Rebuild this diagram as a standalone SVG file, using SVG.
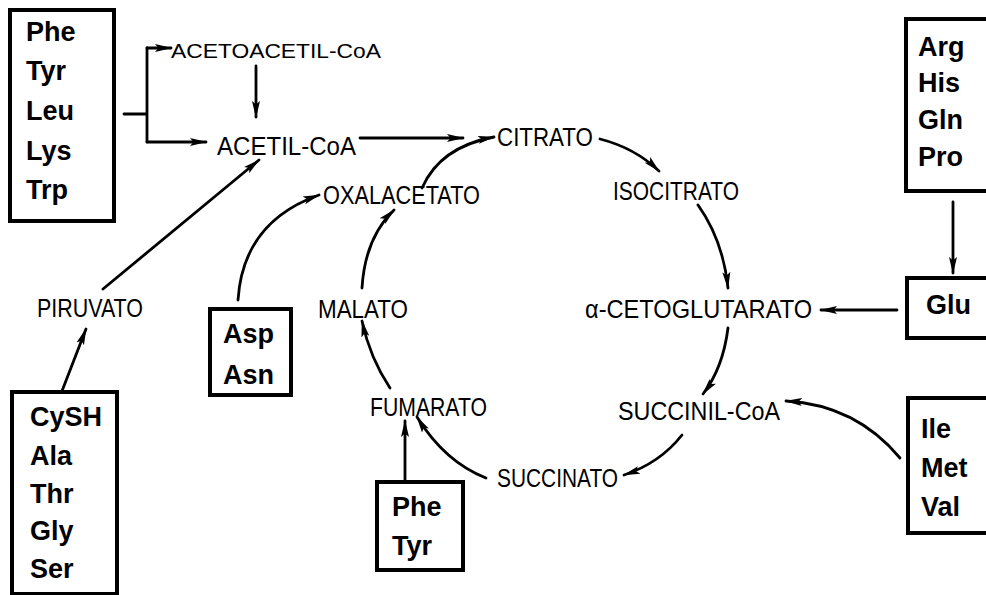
<svg xmlns="http://www.w3.org/2000/svg" width="986" height="595" viewBox="0 0 986 595">
  <style>
    .box { fill: #fff; stroke: #000; stroke-width: 4; }
    .aa { font-family: "Liberation Sans", Arial, sans-serif; font-weight: bold; font-size: 27px; fill: #000; }
    .met { font-family: "Liberation Sans", Arial, sans-serif; font-size: 26px; fill: #000; }
    .small { font-size: 21px; }
    .edge { fill: none; stroke: #000; stroke-width: 2.8; stroke-linecap: round; }
    .arr { marker-end: url(#head); }
  </style>
  <defs>
    <marker id="head" markerUnits="userSpaceOnUse" markerWidth="20" markerHeight="12" refX="16" refY="6" orient="auto">
      <path d="M0,2 L17,6 L0,10 L3.5,6 Z" fill="#000"/>
    </marker>
  </defs>
  <rect width="986" height="595" fill="#fff"/>

  <!-- amino acid boxes -->
  <g id="aa-phe-tyr-leu-lys-trp">
    <rect class="box" x="10" y="10" width="104" height="211"/>
    <text class="aa" x="26" y="41">Phe</text>
    <text class="aa" x="26" y="80">Tyr</text>
    <text class="aa" x="26" y="120">Leu</text>
    <text class="aa" x="26" y="160">Lys</text>
    <text class="aa" x="26" y="199">Trp</text>
  </g>
  <g id="aa-arg-his-gln-pro">
    <rect class="box" x="906" y="19" width="90" height="172"/>
    <text class="aa" x="918" y="56">Arg</text>
    <text class="aa" x="918" y="92">His</text>
    <text class="aa" x="918" y="129">Gln</text>
    <text class="aa" x="918" y="166">Pro</text>
  </g>
  <g id="aa-glu">
    <rect class="box" x="907" y="278" width="90" height="60"/>
    <text class="aa" x="926" y="314">Glu</text>
  </g>
  <g id="aa-ile-met-val">
    <rect class="box" x="908" y="398" width="90" height="135"/>
    <text class="aa" x="921" y="438">Ile</text>
    <text class="aa" x="921" y="477">Met</text>
    <text class="aa" x="921" y="516">Val</text>
  </g>
  <g id="aa-cysh-ala-thr-gly-ser">
    <rect class="box" x="12" y="392" width="105" height="202"/>
    <text class="aa" x="30" y="426">CySH</text>
    <text class="aa" x="30" y="465">Ala</text>
    <text class="aa" x="30" y="503">Thr</text>
    <text class="aa" x="30" y="540">Gly</text>
    <text class="aa" x="30" y="578">Ser</text>
  </g>
  <g id="aa-asp-asn">
    <rect class="box" x="210" y="309" width="81" height="86" stroke-width="5"/>
    <text class="aa" x="223" y="343">Asp</text>
    <text class="aa" x="223" y="384">Asn</text>
  </g>
  <g id="aa-phe-tyr">
    <rect class="box" x="377" y="482" width="86" height="88" stroke-width="5"/>
    <text class="aa" x="392" y="516">Phe</text>
    <text class="aa" x="392" y="555">Tyr</text>
  </g>

  <!-- metabolites -->
  <g id="acetoacetil-coa"><text class="met small" x="171" y="58" textLength="210" lengthAdjust="spacingAndGlyphs">ACETOACETIL-CoA</text></g>
  <g id="acetil-coa"><text class="met" x="217" y="155" textLength="139" lengthAdjust="spacingAndGlyphs">ACETIL-CoA</text></g>
  <g id="citrato"><text class="met" x="497" y="146" textLength="96" lengthAdjust="spacingAndGlyphs">CITRATO</text></g>
  <g id="isocitrato"><text class="met" x="613" y="200" textLength="126" lengthAdjust="spacingAndGlyphs">ISOCITRATO</text></g>
  <g id="oxalacetato"><text class="met" x="323" y="204" textLength="157" lengthAdjust="spacingAndGlyphs">OXALACETATO</text></g>
  <g id="piruvato"><text class="met" x="37" y="317" textLength="106" lengthAdjust="spacingAndGlyphs">PIRUVATO</text></g>
  <g id="malato"><text class="met" x="318" y="318" textLength="90" lengthAdjust="spacingAndGlyphs">MALATO</text></g>
  <g id="cetoglutarato"><text class="met" x="585" y="318" textLength="227" lengthAdjust="spacingAndGlyphs">α-CETOGLUTARATO</text></g>
  <g id="fumarato"><text class="met" x="370" y="416" textLength="117" lengthAdjust="spacingAndGlyphs">FUMARATO</text></g>
  <g id="succinil-coa"><text class="met" x="618" y="420" textLength="162" lengthAdjust="spacingAndGlyphs">SUCCINIL-CoA</text></g>
  <g id="succinato"><text class="met" x="497" y="487" textLength="121" lengthAdjust="spacingAndGlyphs">SUCCINATO</text></g>

  <!-- connectors -->
  <g id="connectors">
    <path class="edge" d="M124,114 H147 M147,48 V142" stroke-width="2.2"/>
    <path class="edge arr" d="M147,48 H171" stroke-width="2.2"/>
    <path class="edge arr" d="M147,142 H206" stroke-width="2.2"/>
    <path class="edge arr" d="M256,66 V117"/>
    <path class="edge arr" d="M360,138 H463"/>
    <path class="edge arr" d="M422,188 Q440,147 494,137"/>
    <path class="edge arr" d="M103,289 L259,160"/>
    <path class="edge arr" d="M238,300 Q243,222 319,195"/>
    <path class="edge arr" d="M362,288 Q365,238 394,210"/>
    <path class="edge arr" d="M390,388 Q370,358 362,321"/>
    <path class="edge arr" d="M405,480 V421"/>
    <path class="edge arr" d="M486,478 Q445,462 417,417"/>
    <path class="edge arr" d="M682,435 Q660,463 624,475"/>
    <path class="edge arr" d="M728,328 Q723,368 703,394"/>
    <path class="edge arr" d="M698,205 Q723,240 728,288"/>
    <path class="edge arr" d="M600,139 Q635,148 659,171"/>
    <path class="edge arr" d="M953,202 V273"/>
    <path class="edge arr" d="M897,310 H821"/>
    <path class="edge arr" d="M900,458 Q856,405 786,401"/>
    <path class="edge arr" d="M62,391 L86,329"/>
  </g>
</svg>
